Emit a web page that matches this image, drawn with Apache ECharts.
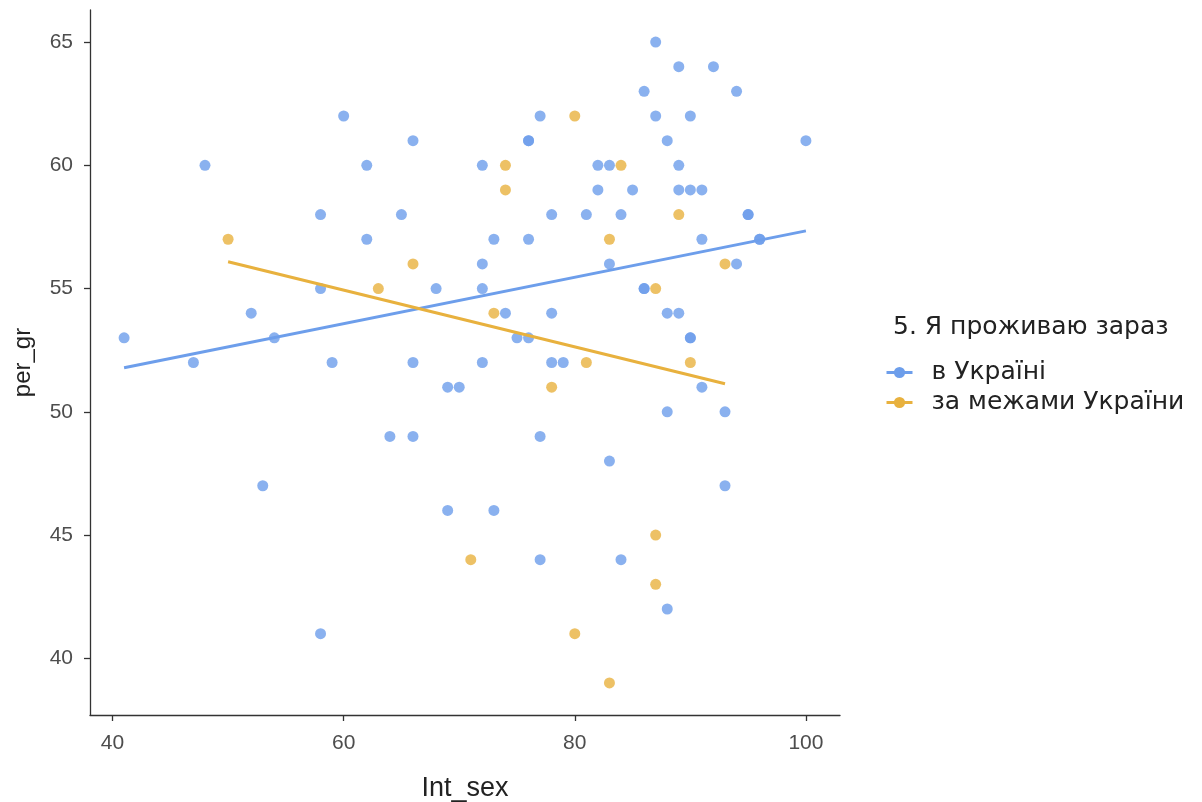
<!DOCTYPE html>
<html>
<head>
<meta charset="utf-8">
<script src="https://cdn.jsdelivr.net/npm/echarts@6/dist/echarts.min.js"></script>
<style>
html,body{margin:0;padding:0;background:#fff;}
#chart{width:1202px;height:802px;}
</style>
</head>
<body>
<div id="chart"></div>
<script>
// Series names
const groupNames = ['в Україні', 'за межами України'];
const legendTitle = '5. Я проживаю зараз';

// Group 1: в Україні
const ukrX = [41,47,48,52,53,54,58,58,58,59,60,62,62,64,65,66,66,66,68,69,70,69,72,72,72,72,73,73,74,75,76,76,76,76,77,77,77,78,78,78,79,81,82,82,83,83,83,84,84,85,86,86,86,87,87,88,88,88,88,89,89,89,89,90,90,90,90,91,91,91,92,93,93,94,94,95,95,96,96,100];
const ukrY = [53,52,60,54,47,53,58,55,41,52,62,60,57,49,58,61,52,49,55,51,51,46,60,56,55,52,57,46,54,53,61,61,57,53,62,49,44,58,54,52,52,58,60,59,60,56,48,58,44,59,63,55,55,65,62,61,54,50,42,64,60,59,54,62,59,53,53,59,57,51,64,50,47,63,56,58,58,57,57,61];

// Group 2: за межами України
const abrX = [50,63,66,71,73,74,74,78,80,80,81,83,83,84,87,87,87,89,90,93];
const abrY = [57,55,56,44,54,60,59,51,62,41,52,57,39,60,55,45,43,58,52,56];

// Linear fit lines (endpoints)
const ukrFitX = [41, 100];
const ukrFitY = [51.79, 57.34];
const abrFitX = [50, 93];
const abrFitY = [56.09, 51.14];

// Axis ticks
const xTicks = [40, 60, 80, 100];
const yTicks = [40, 45, 50, 55, 60, 65];

const colors = ['#6D9EEB', '#E8B13E'];
const zip = (a, b) => a.map((v, i) => [v, b[i]]);

const chart = echarts.init(document.getElementById('chart'), null, {renderer: 'canvas'});
const font = 'Liberation Sans, Arial, Helvetica, sans-serif';
const legendFont = 'DejaVu Sans, Liberation Sans, sans-serif';

const option = {
  animation: false,
  backgroundColor: '#ffffff',
  title: {
    text: legendTitle,
    left: 888,
    top: 309,
    textStyle: {fontFamily: legendFont, fontSize: 25, fontWeight: 'normal', color: '#222', lineHeight: 26}
  },
  legend: {
    data: groupNames,
    orient: 'vertical',
    left: 880,
    top: 355,
    itemWidth: 26,
    itemHeight: 14,
    itemGap: 5,
    lineStyle: {width: 3},
    textStyle: {fontFamily: legendFont, fontSize: 25, color: '#222', lineHeight: 25, padding: [0, 0, 0, 14]}
  },
  grid: {left: 90, top: 10, width: 750, height: 705, containLabel: false, outerBoundsMode: 'none'},
  xAxis: {
    type: 'value',
    min: 38.05, max: 102.95,
    name: 'Int_sex',
    nameLocation: 'middle',
    nameGap: 60,
    nameTextStyle: {fontFamily: font, fontSize: 27, color: '#222'},
    splitLine: {show: false},
    axisLine: {show: true, onZero: false, lineStyle: {color: '#333', width: 1.3}},
    axisTick: {show: true, length: 6, customValues: xTicks, lineStyle: {color: '#333', width: 1.3}},
    axisLabel: {customValues: xTicks, margin: 18, fontFamily: font, fontSize: 21, color: '#4D4D4D'}
  },
  yAxis: {
    type: 'value',
    min: 37.7, max: 66.3,
    name: 'per_gr',
    nameLocation: 'middle',
    nameGap: 55,
    nameTextStyle: {fontFamily: font, fontSize: 24, color: '#222'},
    splitLine: {show: false},
    axisLine: {show: true, onZero: false, lineStyle: {color: '#333', width: 1.3}},
    axisTick: {show: true, length: 6, customValues: yTicks, lineStyle: {color: '#333', width: 1.3}},
    axisLabel: {customValues: yTicks, margin: 17, fontFamily: font, fontSize: 21, color: '#4D4D4D'}
  },
  series: [
    {
      name: groupNames[0], type: 'line', data: zip(ukrFitX, ukrFitY),
      showSymbol: false, symbol: 'circle', symbolSize: 11,
      lineStyle: {color: colors[0], width: 3}, itemStyle: {color: colors[0]}, z: 3
    },
    {
      name: groupNames[1], type: 'line', data: zip(abrFitX, abrFitY),
      showSymbol: false, symbol: 'circle', symbolSize: 11,
      lineStyle: {color: colors[1], width: 3}, itemStyle: {color: colors[1]}, z: 3
    },
    {
      name: groupNames[0], type: 'scatter', data: zip(ukrX, ukrY),
      symbolSize: 11, itemStyle: {color: colors[0], opacity: 0.8}, z: 2
    },
    {
      name: groupNames[1], type: 'scatter', data: zip(abrX, abrY),
      symbolSize: 11, itemStyle: {color: colors[1], opacity: 0.8}, z: 2
    }
  ]
};
chart.setOption(option);
</script>
</body>
</html>
